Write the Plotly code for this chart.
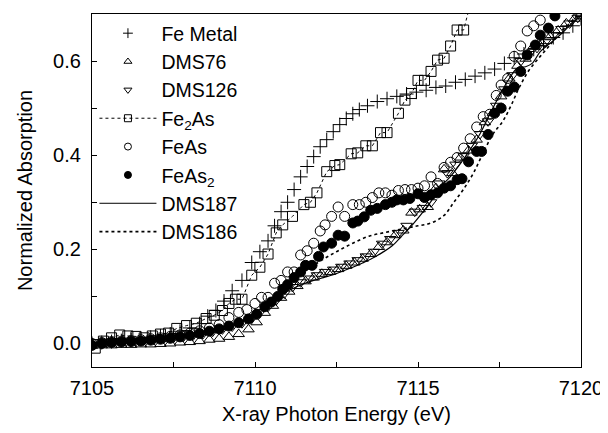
import plotly.graph_objects as go

# Fe metal foil
fe_metal_e = [7105.0, 7105.3, 7105.6, 7105.9, 7106.2, 7106.5, 7106.8, 7107.1, 7107.4, 7107.7,
              7108.0, 7108.3, 7108.55, 7108.8, 7109.05, 7109.3, 7109.6, 7109.9, 7110.15, 7110.4,
              7110.6, 7110.8, 7111.0, 7111.2, 7111.4, 7111.6, 7111.8, 7112.0, 7112.2, 7112.4,
              7112.6, 7112.8, 7113.0, 7113.2, 7113.45, 7113.75, 7114.05, 7114.35, 7114.65, 7114.95,
              7115.25, 7115.55, 7115.85, 7116.15, 7116.45, 7116.75, 7117.05, 7117.35, 7117.65, 7117.95,
              7118.25, 7118.55, 7118.85, 7119.15, 7119.45, 7119.75, 7120.0]
fe_metal_y = [0.0, 0.002, 0.004, 0.006, 0.008, 0.01, 0.013, 0.016, 0.02, 0.026,
              0.033, 0.042, 0.058, 0.07, 0.09, 0.112, 0.134, 0.172, 0.195, 0.218,
              0.25, 0.28, 0.30, 0.327, 0.354, 0.376, 0.397, 0.418, 0.433, 0.45,
              0.465, 0.478, 0.488, 0.497, 0.505, 0.514, 0.52, 0.525, 0.53, 0.534,
              0.538, 0.544, 0.547, 0.555, 0.561, 0.568, 0.575, 0.583, 0.595, 0.607,
              0.615, 0.625, 0.637, 0.65, 0.66, 0.675, 0.69]

dms76_e = [7105.0, 7105.3, 7105.6, 7105.9, 7106.2, 7106.5, 7106.8, 7107.1, 7107.4, 7107.7,
           7108.0, 7108.3, 7108.6, 7108.9, 7109.2, 7109.5, 7109.8, 7110.05, 7110.3, 7110.55,
           7110.8, 7111.05, 7111.3, 7111.55, 7111.8, 7112.05, 7112.3, 7112.55, 7112.8, 7113.05,
           7113.3, 7113.55, 7113.8, 7114.05, 7114.3, 7114.55, 7114.8, 7115.05, 7115.3, 7115.55,
           7115.8, 7116.05, 7116.3, 7116.55, 7116.8, 7117.05, 7117.3, 7117.55, 7117.8, 7118.05,
           7118.3, 7118.55, 7118.8, 7119.05, 7119.3, 7119.55, 7119.8, 7120.0]
dms76_y = [-0.005, -0.004, -0.004, -0.003, -0.003, -0.002, -0.002, -0.001, 0.0, 0.002,
           0.003, 0.005, 0.008, 0.01, 0.014, 0.02, 0.03, 0.045, 0.065, 0.08,
           0.097, 0.11, 0.122, 0.132, 0.14, 0.148, 0.152, 0.158, 0.165, 0.172,
           0.18, 0.19, 0.205, 0.215, 0.23, 0.24, 0.278, 0.285, 0.29, 0.33,
           0.37, 0.362, 0.395, 0.41, 0.433, 0.47, 0.49, 0.525, 0.563, 0.59,
           0.605, 0.632, 0.638, 0.652, 0.665, 0.68, 0.69, 0.70]

dms126_e = [7105.1, 7105.4, 7105.7, 7106.0, 7106.3, 7106.6, 7106.9, 7107.2, 7107.5, 7107.8,
            7108.1, 7108.4, 7108.7, 7109.0, 7109.3, 7109.6, 7109.9, 7110.15, 7110.4, 7110.65,
            7110.9, 7111.15, 7111.4, 7111.65, 7111.9, 7112.15, 7112.4, 7112.65, 7112.9, 7113.15,
            7113.4, 7113.65, 7113.9, 7114.15, 7114.4, 7114.65, 7114.9, 7115.15, 7115.4, 7115.65,
            7115.9, 7116.15, 7116.4, 7116.65, 7116.9, 7117.15, 7117.4, 7117.65, 7117.9, 7118.15,
            7118.4, 7118.65, 7118.9, 7119.15, 7119.4, 7119.65, 7119.9]
dms126_y = [0.003, 0.004, 0.005, 0.006, 0.006, 0.007, 0.008, 0.01, 0.012, 0.014,
            0.017, 0.02, 0.025, 0.03, 0.036, 0.043, 0.055, 0.066, 0.078, 0.092,
            0.106, 0.12, 0.13, 0.138, 0.145, 0.152, 0.157, 0.163, 0.17, 0.177,
            0.185, 0.195, 0.212, 0.222, 0.235, 0.25, 0.28, 0.288, 0.30, 0.34,
            0.362, 0.38, 0.398, 0.42, 0.445, 0.472, 0.505, 0.54, 0.57, 0.60,
            0.615, 0.628, 0.64, 0.655, 0.668, 0.68, 0.692]

fe2as_e = [7105.1, 7105.35, 7105.6, 7105.85, 7106.1, 7106.35, 7106.6, 7106.85, 7107.1, 7107.35,
           7107.6, 7107.9, 7108.2, 7108.5, 7108.75, 7109.0, 7109.2, 7109.4, 7109.6, 7109.9,
           7110.15, 7110.4, 7110.65, 7110.85, 7111.15, 7111.5, 7111.7, 7111.9, 7112.2, 7112.45,
           7112.6, 7112.95, 7113.15, 7113.4, 7113.6, 7113.85, 7114.05, 7114.4, 7114.6, 7114.8,
           7115.0, 7115.2, 7115.4, 7115.6, 7115.8, 7116.0, 7116.2, 7116.4, 7116.6]
fe2as_y = [-0.01, 0.005, 0.012, 0.018, 0.016, 0.015, 0.012, 0.016, 0.02, 0.022,
           0.032, 0.038, 0.043, 0.053, 0.06, 0.07, 0.085, 0.094, 0.094, 0.145,
           0.162, 0.19, 0.235, 0.252, 0.27, 0.295, 0.30, 0.32, 0.365, 0.378,
           0.38, 0.403, 0.405, 0.42, 0.42, 0.448, 0.448, 0.489, 0.517, 0.531,
           0.559, 0.559, 0.578, 0.602, 0.606, 0.632, 0.666, 0.666, 0.72]

feas_e = [7105.0, 7105.3, 7105.6, 7105.9, 7106.2, 7106.5, 7106.8, 7107.1, 7107.4, 7107.7,
          7108.0, 7108.3, 7108.6, 7108.9, 7109.2, 7109.5, 7109.75, 7110.0, 7110.2, 7110.4,
          7110.6, 7110.8, 7111.0, 7111.2, 7111.4, 7111.6, 7111.8, 7112.0, 7112.15, 7112.35,
          7112.55, 7112.75, 7113.0, 7113.2, 7113.4, 7113.6, 7113.8, 7114.0, 7114.2, 7114.4,
          7114.6, 7114.8, 7115.0, 7115.2, 7115.4, 7115.6, 7115.8, 7116.0, 7116.2, 7116.4,
          7116.6, 7116.8, 7117.0, 7117.2, 7117.4, 7117.55, 7117.75, 7117.95, 7118.15, 7118.35,
          7118.55, 7118.75]
feas_y = [0.0, 0.002, 0.004, 0.005, 0.006, 0.008, 0.01, 0.012, 0.015, 0.018,
          0.022, 0.027, 0.033, 0.04, 0.055, 0.066, 0.072, 0.085, 0.098, 0.098,
          0.128, 0.134, 0.152, 0.152, 0.188, 0.197, 0.213, 0.239, 0.252, 0.27,
          0.29, 0.27, 0.295, 0.295, 0.30, 0.31, 0.32, 0.32, 0.315, 0.325,
          0.327, 0.327, 0.33, 0.335, 0.354, 0.34, 0.374, 0.385, 0.395, 0.415,
          0.435, 0.46, 0.482, 0.487, 0.527, 0.549, 0.563, 0.61, 0.632, 0.664,
          0.675, 0.687]

feas2_e = [7105.0, 7105.3, 7105.6, 7105.9, 7106.2, 7106.5, 7106.8, 7107.1, 7107.4, 7107.7,
           7108.0, 7108.3, 7108.6, 7108.9, 7109.2, 7109.5, 7109.8, 7110.05, 7110.3, 7110.5,
           7110.7, 7110.85, 7111.0, 7111.2, 7111.4, 7111.55, 7111.75, 7111.95, 7112.1, 7112.35,
           7112.55, 7112.75, 7113.0, 7113.15, 7113.35, 7113.55, 7113.75, 7114.0, 7114.2, 7114.35,
           7114.55, 7114.75, 7115.0, 7115.2, 7115.4, 7115.6, 7115.8, 7116.0, 7116.2, 7116.35,
           7116.55, 7116.8, 7116.95, 7117.15, 7117.35, 7117.55, 7117.75, 7117.95, 7118.15, 7118.35,
           7118.6, 7118.75, 7119.0, 7119.2]
feas2_y = [-0.004, 0.0, 0.002, 0.003, 0.004, 0.005, 0.007, 0.009, 0.011, 0.014,
           0.017, 0.021, 0.026, 0.031, 0.037, 0.044, 0.052, 0.062, 0.078, 0.088,
           0.10, 0.115, 0.125, 0.14, 0.152, 0.166, 0.166, 0.185, 0.205, 0.213,
           0.23, 0.228, 0.256, 0.26, 0.269, 0.283, 0.287, 0.295, 0.30, 0.305,
           0.305, 0.308, 0.318, 0.31, 0.316, 0.32, 0.33, 0.335, 0.348, 0.35,
           0.386, 0.408, 0.408, 0.444, 0.489, 0.50, 0.536, 0.545, 0.578, 0.613,
           0.634, 0.655, 0.67, 0.696]

dms187_e = [7105.0, 7105.5, 7106.0, 7106.5, 7107.0, 7107.5, 7108.0, 7108.5, 7109.0, 7109.5,
            7110.0, 7110.3, 7110.6, 7110.9, 7111.2, 7111.5, 7111.8, 7112.1, 7112.4, 7112.7,
            7113.0, 7113.3, 7113.6, 7113.9, 7114.2, 7114.5, 7114.8, 7115.1, 7115.4, 7115.7,
            7116.0, 7116.3, 7116.6, 7116.9, 7117.2, 7117.5, 7117.8, 7118.05, 7118.3, 7118.5,
            7118.75, 7119.0, 7119.25, 7119.5, 7119.75, 7120.0]
dms187_y = [0.0, 0.002, 0.003, 0.005, 0.007, 0.01, 0.014, 0.02, 0.028, 0.042,
            0.064, 0.08, 0.095, 0.108, 0.118, 0.127, 0.134, 0.14, 0.146, 0.154,
            0.162, 0.171, 0.181, 0.193, 0.207, 0.228, 0.25, 0.275, 0.302, 0.333,
            0.355, 0.382, 0.412, 0.445, 0.487, 0.527, 0.563, 0.585, 0.588, 0.595,
            0.62, 0.635, 0.649, 0.665, 0.682, 0.696]

dms186_e = [7105.0, 7106.0, 7107.0, 7108.0, 7109.0, 7109.5, 7110.0, 7110.5, 7111.0, 7111.5,
            7112.0, 7112.5, 7113.0, 7113.5, 7114.0, 7114.5, 7115.0, 7115.4, 7115.8, 7116.1,
            7116.4, 7116.7, 7117.0, 7117.3, 7117.6, 7117.85, 7118.1, 7118.4, 7118.75, 7119.05,
            7119.35, 7119.65, 7119.95]
dms186_y = [0.0, 0.004, 0.008, 0.015, 0.03, 0.045, 0.065, 0.09, 0.125, 0.152,
            0.175, 0.195, 0.213, 0.228, 0.236, 0.243, 0.25, 0.256, 0.272, 0.30,
            0.328, 0.362, 0.405, 0.445, 0.472, 0.505, 0.543, 0.58, 0.61, 0.634,
            0.66, 0.68, 0.70]

fig = go.Figure()


def mk(symbol, size=10):
    return dict(symbol=symbol, size=size, color="black", line=dict(color="black", width=1))


# data traces (legend entries are drawn by separate small-marker traces below)
fig.add_trace(go.Scatter(x=fe_metal_e, y=fe_metal_y, mode="markers", showlegend=False,
                         marker=mk("cross-thin", 10)))
fig.add_trace(go.Scatter(x=dms76_e, y=dms76_y, mode="markers", showlegend=False,
                         marker=mk("triangle-up-open", 10)))
fig.add_trace(go.Scatter(x=dms126_e, y=dms126_y, mode="markers", showlegend=False,
                         marker=mk("triangle-down-open", 10)))
fig.add_trace(go.Scatter(x=fe2as_e, y=fe2as_y, mode="lines+markers", showlegend=False,
                         line=dict(color="black", width=1, dash="dot"),
                         marker=mk("square-open", 10)))
fig.add_trace(go.Scatter(x=feas_e, y=feas_y, mode="markers", showlegend=False,
                         marker=mk("circle-open", 10)))
fig.add_trace(go.Scatter(x=feas2_e, y=feas2_y, mode="markers", showlegend=False,
                         marker=mk("circle", 10)))
fig.add_trace(go.Scatter(x=dms187_e, y=dms187_y, mode="lines", showlegend=False,
                         line=dict(color="black", width=1.2, shape="spline")))
fig.add_trace(go.Scatter(x=dms186_e, y=dms186_y, mode="lines", showlegend=False,
                         line=dict(color="black", width=1.6, dash="dot", shape="spline")))

# legend entries
legend_items = [
    ("Fe Metal", "markers", "cross-thin", None),
    ("DMS76", "markers", "triangle-up-open", None),
    ("DMS126", "markers", "triangle-down-open", None),
    ("Fe<sub>2</sub>As", "lines+markers", "square-open", "dot"),
    ("FeAs", "markers", "circle-open", None),
    ("FeAs<sub>2</sub>", "markers", "circle", None),
    ("DMS187", "lines", None, "solid"),
    ("DMS186", "lines", None, "dot"),
]
for name, mode, sym, dash in legend_items:
    kw = dict(x=[None], y=[None], mode=mode, name=name)
    if sym:
        kw["marker"] = mk(sym, 7)
    if dash:
        kw["line"] = dict(color="black", width=1.6 if name == "DMS186" else 1, dash=dash)
    fig.add_trace(go.Scatter(**kw))

axis_common = dict(showline=True, linecolor="black", linewidth=1.3, mirror=True,
                   ticks="inside", ticklen=5, tickcolor="black", showgrid=False,
                   zeroline=False, automargin=False, tickfont=dict(size=20, color="black"))

fig.update_xaxes(axis_common, range=[7105, 7120], dtick=5, tick0=7105, ticklabelstandoff=3,
                 minor=dict(ticks="inside", ticklen=5, dtick=2.5, tickcolor="black"),
                 title=dict(text="X-ray Photon Energy (eV)", font=dict(size=20, color="black"),
                            standoff=8))
fig.update_yaxes(axis_common, range=[-0.05, 0.70], dtick=0.2, tick0=0, tickformat=".1f",
                 ticklabelstandoff=6,
                 minor=dict(ticks="inside", ticklen=5, dtick=0.1, tickcolor="black"),
                 title=dict(text="Normalized Absorption", font=dict(size=20, color="black")))

# page body adds an 8px offset, so the figure is 600x425 with trimmed margins
fig.update_layout(
    width=600, height=425,
    margin=dict(l=84, r=27, t=6, b=66),
    plot_bgcolor="white", paper_bgcolor="white",
    font=dict(family="Liberation Sans, Arial, sans-serif", color="black"),
    legend=dict(x=0.005, y=1.0, xanchor="left", yanchor="top", bgcolor="rgba(0,0,0,0)",
                font=dict(size=19.5), tracegroupgap=0, itemwidth=57, maxheight=400),
)

fig.write_html("out.html")
